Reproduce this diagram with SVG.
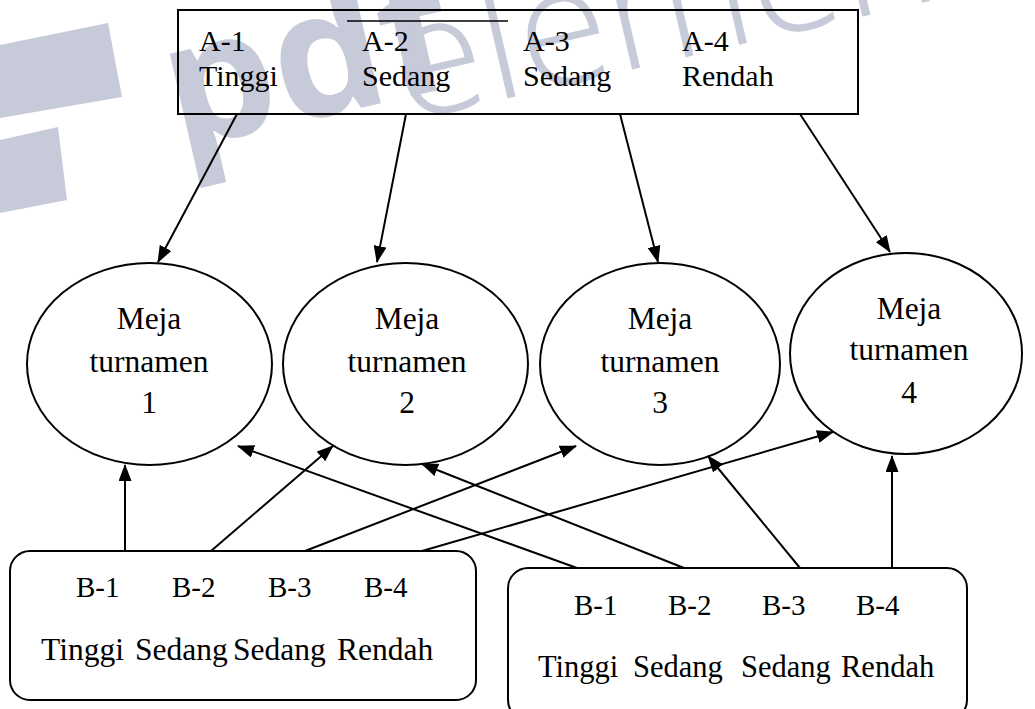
<svg xmlns="http://www.w3.org/2000/svg" width="1035" height="709" viewBox="0 0 1035 709">
<defs>
<style>
.t{font-family:"Liberation Serif","Times New Roman",serif;fill:#000;}
.tb{font-size:30px;}
.te{font-size:31.5px;text-anchor:middle;}
.tB{font-size:29px;}
.tw{font-size:31.5px;}
.tw2{font-size:30.5px;}
.ln{stroke:#000;stroke-width:2;fill:none;}
.shape{stroke:#000;stroke-width:2;fill:#fff;}
.wm{fill:#c7cad9;}
</style>
<marker id="ah" markerUnits="userSpaceOnUse" markerWidth="17" markerHeight="13" refX="16" refY="6.5" orient="auto">
<path d="M0,0 L17,6.5 L0,13 z" fill="#000"/>
</marker>
</defs>
<rect width="1035" height="709" fill="#fff"/>
<g id="watermark">
<polygon class="wm" points="0,45 108,23 122,97 0,118"/>
<polygon class="wm" points="0,140 58,127 67,200 0,213"/>
<text class="wm" x="178" y="150" transform="rotate(-13 178 150)" font-family="'Open Sans',Lato,sans-serif" font-weight="700" font-size="175">pdf</text>
<text class="wm" x="405" y="122" transform="rotate(-13 405 122)" font-family="'Open Sans',Lato,sans-serif" font-weight="300" font-size="165">element</text>
</g>
<g id="top-box">
<rect x="178" y="10" width="680" height="104" fill="none" stroke="#000" stroke-width="2"/>
<line x1="347" y1="21" x2="508" y2="21" stroke="#000" stroke-width="1.5"/>
<text class="t tb" x="199" y="51">A-1</text>
<text class="t tb" x="199" y="86">Tinggi</text>
<text class="t tb" x="362" y="51">A-2</text>
<text class="t tb" x="362" y="86">Sedang</text>
<text class="t tb" x="523" y="51">A-3</text>
<text class="t tb" x="523" y="86">Sedang</text>
<text class="t tb" x="682" y="51">A-4</text>
<text class="t tb" x="682" y="86">Rendah</text>
</g>
<g id="meja1">
<ellipse class="shape" cx="149.5" cy="364" rx="122.5" ry="101"/>
<text class="t te" x="149" y="329">Meja</text>
<text class="t te" x="149" y="372">turnamen</text>
<text class="t te" x="149" y="413">1</text>
</g>
<g id="meja2">
<ellipse class="shape" cx="405.5" cy="364" rx="122.5" ry="101"/>
<text class="t te" x="407" y="329">Meja</text>
<text class="t te" x="407" y="372">turnamen</text>
<text class="t te" x="407" y="413">2</text>
</g>
<g id="meja3">
<ellipse class="shape" cx="660" cy="364" rx="120" ry="101"/>
<text class="t te" x="660" y="329">Meja</text>
<text class="t te" x="660" y="372">turnamen</text>
<text class="t te" x="660" y="413">3</text>
</g>
<g id="meja4">
<ellipse class="shape" cx="906" cy="353.5" rx="116" ry="100.5"/>
<text class="t te" x="909" y="319">Meja</text>
<text class="t te" x="909" y="360">turnamen</text>
<text class="t te" x="909" y="403">4</text>
</g>
<g id="group-b-left">
<rect class="shape" x="10" y="551" width="466" height="149" rx="20" ry="20"/>
<text class="t tB" x="76" y="597">B-1</text>
<text class="t tB" x="172" y="597">B-2</text>
<text class="t tB" x="268" y="597">B-3</text>
<text class="t tB" x="364" y="597">B-4</text>
<text class="t tw" x="41" y="660">Tinggi</text>
<text class="t tw" x="135" y="660">Sedang</text>
<text class="t tw" x="233" y="660">Sedang</text>
<text class="t tw" x="337" y="660">Rendah</text>
</g>
<g id="group-b-right">
<rect class="shape" x="508" y="568" width="459" height="152" rx="20" ry="20"/>
<text class="t tB" x="574" y="615">B-1</text>
<text class="t tB" x="668" y="615">B-2</text>
<text class="t tB" x="762" y="615">B-3</text>
<text class="t tB" x="856" y="615">B-4</text>
<text class="t tw2" x="538" y="677">Tinggi</text>
<text class="t tw2" x="633" y="677">Sedang</text>
<text class="t tw2" x="741" y="677">Sedang</text>
<text class="t tw2" x="841" y="677">Rendah</text>
</g>
<g id="connectors" class="ln" marker-end="url(#ah)">
<line x1="237" y1="114" x2="158" y2="262"/>
<line x1="406" y1="114" x2="377" y2="262"/>
<line x1="620" y1="114" x2="658" y2="262"/>
<line x1="800" y1="114" x2="890" y2="252"/>
<line x1="125" y1="551" x2="125" y2="465"/>
<line x1="211" y1="551" x2="333" y2="446"/>
<line x1="305" y1="551" x2="576" y2="446"/>
<line x1="422" y1="551" x2="833" y2="432"/>
<line x1="577" y1="568" x2="238" y2="446"/>
<line x1="684" y1="568" x2="422" y2="464"/>
<line x1="800" y1="568" x2="708" y2="456"/>
<line x1="892" y1="568" x2="892" y2="456"/>
</g>
</svg>
